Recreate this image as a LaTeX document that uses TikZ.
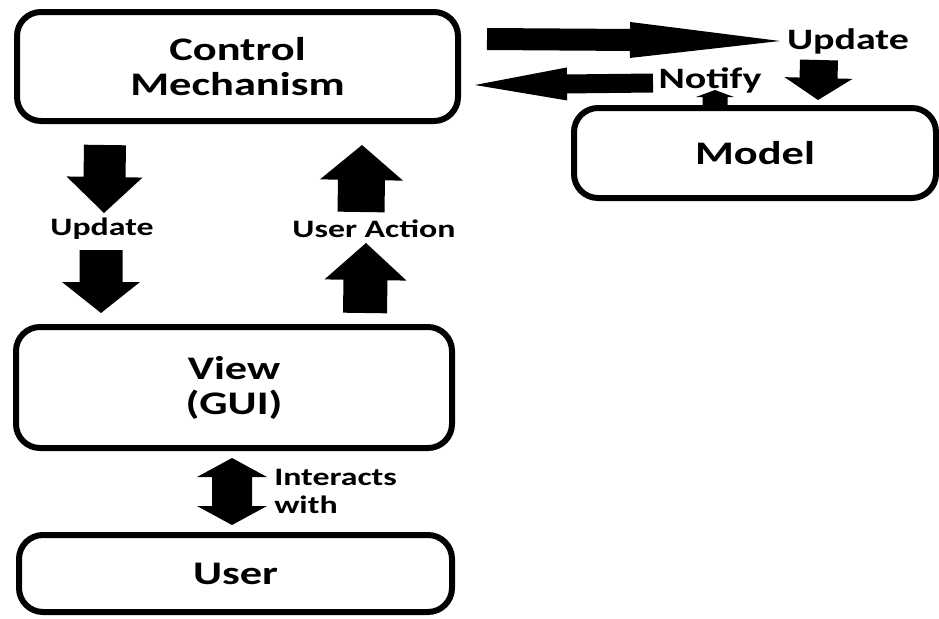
\documentclass[tikz,border=0pt]{standalone}
\usepackage{fontspec}
\setmainfont{Carlito}[FakeStretch=1.35]
\usetikzlibrary{calc}

% block arrow: tail, tip, shaft width, head width, head length (in px)
\newcommand{\blockarrow}[5]{%
  \fill ($(#1)!#3*0.375pt!90:(#2)$)
     -- ($(#2)!#5*0.75pt!(#1)!#3*0.375pt!-90:(#1)$)
     -- ($(#2)!#5*0.75pt!(#1)!#4*0.375pt!-90:(#1)$)
     -- (#2)
     -- ($(#2)!#5*0.75pt!(#1)!#4*0.375pt!90:(#1)$)
     -- ($(#2)!#5*0.75pt!(#1)!#3*0.375pt!90:(#1)$)
     -- ($(#1)!#3*0.375pt!-90:(#2)$) -- cycle;}
\newcommand{\boxfont}{\fontsize{24.7}{26.25}\selectfont\bfseries}
\newcommand{\tagfont}{\fontsize{18.8}{21}\selectfont\bfseries}
\newcommand{\topfont}{\fontsize{22.2}{24}\selectfont\bfseries}

\begin{document}
\begin{tikzpicture}[x=0.75pt,y=-0.75pt,
    box/.style={draw,line width=4.5pt,rounded corners=18pt,align=center,
      inner sep=0pt,font=\boxfont},
    tag/.style={inner sep=0pt,font=\tagfont},
    toptag/.style={inner sep=0pt,font=\topfont},
    line join=round]
  \useasboundingbox (0,0) rectangle (939,618);
  % boxes
  \node[box,minimum width=330.75pt,minimum height=81.75pt] (ctrl) at (237.5,66.5) {Control\\Mechanism};
  \node[box,minimum width=271.5pt,minimum height=67.5pt] (model) at (755,153) {Model};
  \node[box,minimum width=327pt,minimum height=90.75pt] (view) at (234,387.5) {View\\(GUI)};
  \node[box,minimum width=324.75pt,minimum height=57.75pt] (user) at (235.5,573.5) {User};
  % arrow ends
  \coordinate (updA) at (105,145);  \coordinate (updB) at (104,213);
  \coordinate (updC) at (101,250);  \coordinate (updD) at (101,313);
  \coordinate (actA) at (365,313);  \coordinate (actB) at (366,243);
  \coordinate (actC) at (361,212);  \coordinate (actD) at (362,145);
  \coordinate (mupA) at (487,39);   \coordinate (mupB) at (780,41);
  \coordinate (notA) at (653,83);   \coordinate (notB) at (475,85);
  \coordinate (mupC) at (819,60);   \coordinate (mupD) at (818,100);
  \coordinate (notC) at (715,106);  \coordinate (notD) at (715,90);
  \coordinate (intM) at (232,491);
  \coordinate (intA) at (232,458);  \coordinate (intB) at (232,525);
  % block arrows
  \blockarrow{updA}{updB}{42}{76}{36}
  \blockarrow{updC}{updD}{43}{78}{31}
  \blockarrow{actA}{actB}{44}{82}{37}
  \blockarrow{actC}{actD}{47}{83}{35}
  \blockarrow{mupA}{mupB}{22}{36}{150}
  \blockarrow{notA}{notB}{19}{33}{92}
  \blockarrow{mupC}{mupD}{38}{68}{22}
  \blockarrow{notC}{notD}{25}{38}{7}
  \blockarrow{intM}{intA}{40}{70}{19}
  \blockarrow{intM}{intB}{40}{70}{19}
  % labels
  \node[tag] (updL) at (102,229) {Update};
  \node[tag] (actL) at (374,229) {User Action};
  \node[toptag] (mupL) at (848,41) {Update};
  \node[toptag] (notL) at (710,80) {Notify};
  \node[tag,anchor=west,align=left] (intL) at (274,491) {Interacts\\with};
\end{tikzpicture}
\end{document}
